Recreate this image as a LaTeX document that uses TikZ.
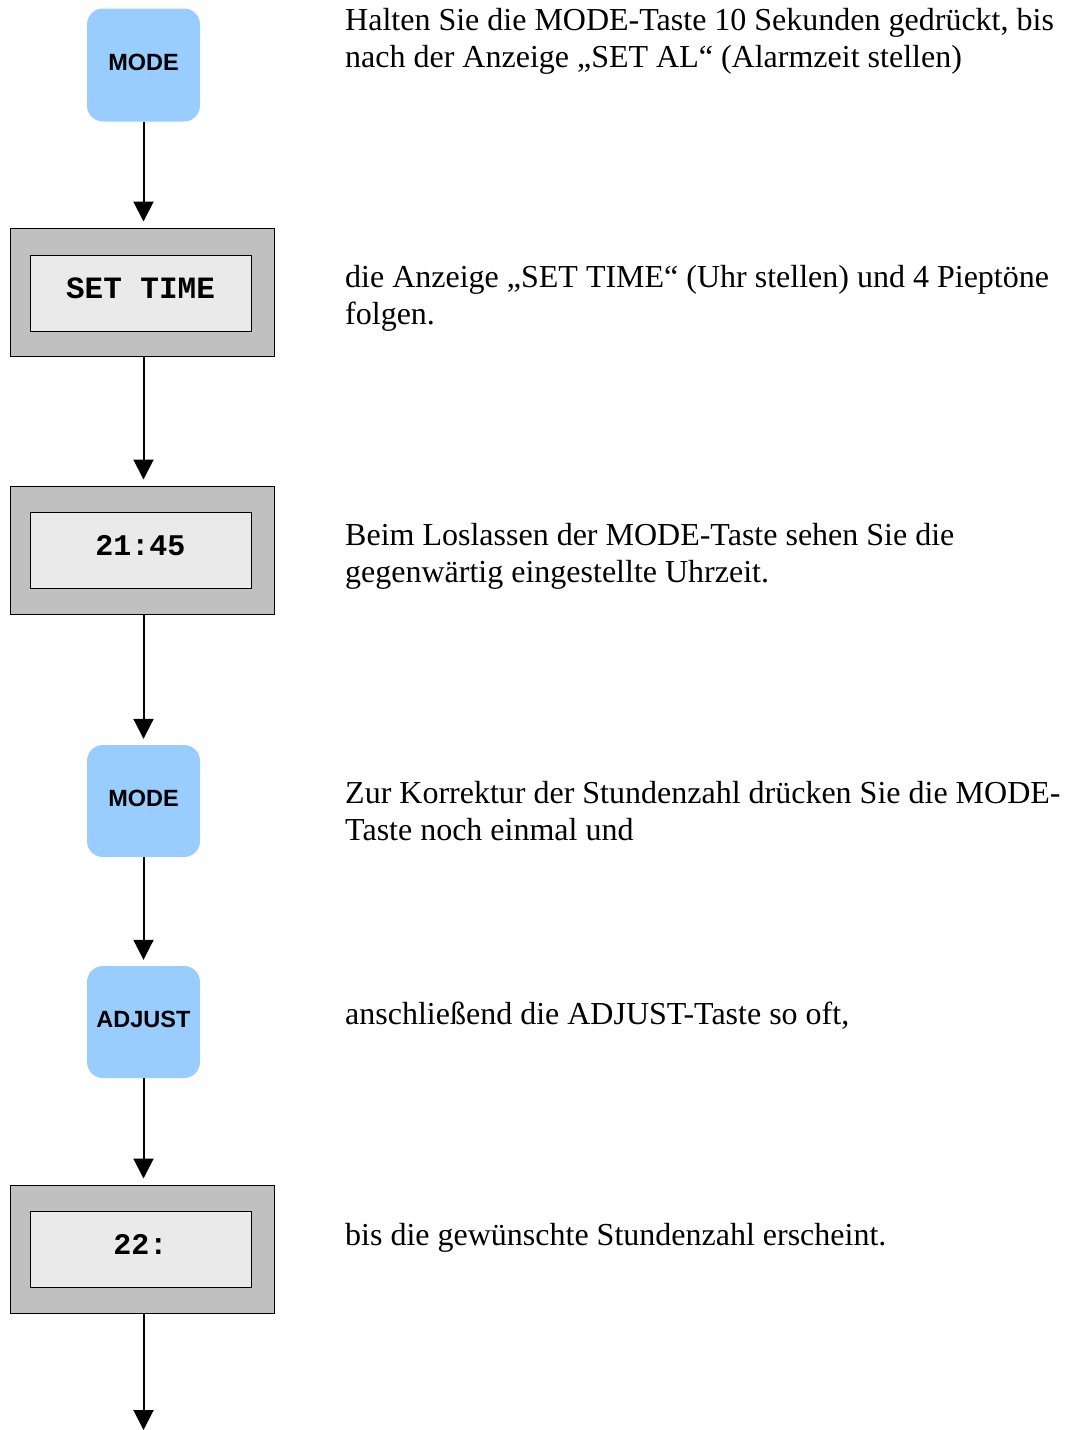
\documentclass[tikz,border=0pt]{standalone}
\usepackage{fontspec}
\setmainfont{Liberation Serif}
\newfontfamily\btnfont{Liberation Sans}
\newfontfamily\lcdfont{Liberation Mono}
\usetikzlibrary{arrows.meta}
\definecolor{btnblue}{HTML}{99CCFF}
\definecolor{lcdouter}{HTML}{C0C0C0}
\definecolor{lcdinner}{HTML}{EAEAEA}
\begin{document}
\begin{tikzpicture}[x=1pt,y=-1pt,
  btn/.style={fill=btnblue,draw=none,rounded corners=16pt,minimum width=113pt,minimum height=113pt,inner sep=0pt,text depth=5pt,font=\btnfont\bfseries\fontsize{23.5}{26}\selectfont},
  lcdframe/.style={fill=lcdouter,draw=black,line width=1pt,minimum width=264pt,minimum height=128pt,inner sep=0pt},
  lcdpanel/.style={fill=lcdinner,draw=black,line width=1pt,minimum width=221pt,minimum height=76pt,inner sep=0pt,text depth=10pt,font=\lcdfont\bfseries\fontsize{30}{32}\selectfont},
  flow/.style={line width=2pt,-{Triangle[width=20pt,length=20pt]},shorten >=6pt},
  desc/.style={anchor=base west,inner sep=0pt,font=\fontsize{32}{37}\selectfont}]
\useasboundingbox (0,0) rectangle (1065,1430);
\node[btn] (b1) at (143.5,65) {MODE};
\node[lcdframe] (d1) at (142,292) {};
\node[lcdpanel,font=\lcdfont\bfseries\fontsize{31}{34}\selectfont] (p1) at (140.5,293) {SET TIME};
\node[lcdframe] (d2) at (142,550) {};
\node[lcdpanel] (p2) at (140.5,550.5) {21:45};
\node[btn,minimum height=112pt] (b2) at (143.5,801) {MODE};
\node[btn,minimum height=112pt] (b3) at (143.5,1022) {ADJUST};
\node[lcdframe] (d3) at (142,1249) {};
\node[lcdpanel] (p3) at (140.5,1249.5) {22:};
\coordinate (end) at (143.5,1436);
\draw[flow] (b1.south) -- (b1.south |- d1.north);
\draw[flow] (d1.south -| b1.south) -- (b1.south |- d2.north);
\draw[flow] (d2.south -| b1.south) -- (b2.north);
\draw[flow] (b2.south) -- (b3.north);
\draw[flow] (b3.south) -- (b3.south |- d3.north);
\draw[flow] (d3.south -| b3.south) -- (end);
\node[desc] (t1a) at (345,30) {Halten Sie die MODE-Taste 10 Sekunden gedrückt, bis};
\node[desc] (t1b) at (345,67) {nach der Anzeige „SET AL“ (Alarmzeit stellen)};
\node[desc] (t2a) at (345,287) {die Anzeige „SET TIME“ (Uhr stellen) und 4 Pieptöne};
\node[desc] (t2b) at (345,324) {folgen.};
\node[desc] (t3a) at (345,545) {Beim Loslassen der MODE-Taste sehen Sie die};
\node[desc] (t3b) at (345,582) {gegenwärtig eingestellte Uhrzeit.};
\node[desc] (t4a) at (345,803) {Zur Korrektur der Stundenzahl drücken Sie die MODE-};
\node[desc] (t4b) at (345,840) {Taste noch einmal und};
\node[desc] (t5) at (345,1024) {anschließend die ADJUST-Taste so oft,};
\node[desc] (t6) at (345,1245) {bis die gewünschte Stundenzahl erscheint.};
\end{tikzpicture}
\end{document}
